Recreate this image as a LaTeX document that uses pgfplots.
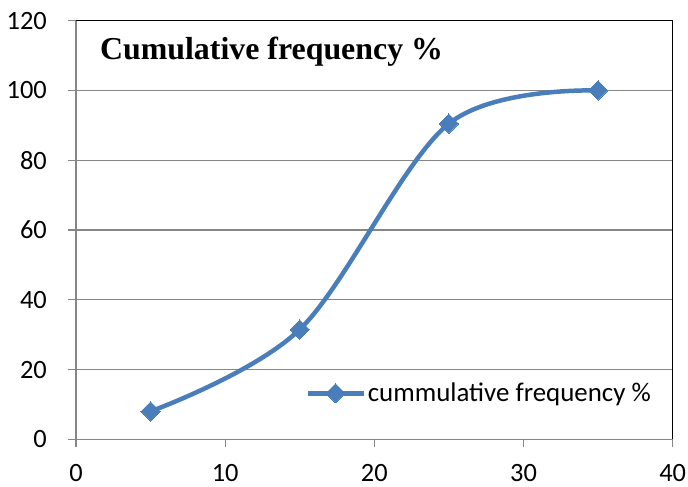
\documentclass[border=0pt]{standalone}
\usepackage{pgfplots}
\pgfplotsset{compat=1.18}
\usepackage{fontspec}
\setmainfont{Carlito}
\newfontfamily\titlefont{Liberation Serif}
\definecolor{exblue}{HTML}{4A7EBB}
\definecolor{exgray}{HTML}{868686}
\begin{document}
\begin{tikzpicture}
\path[use as bounding box] (-76bp,-47.7bp) rectangle (612bp,439.3bp);
\begin{axis}[
  at={(0,0)}, anchor=south west,
  scale only axis,
  width=596.7bp, height=418.6bp,
  xmin=0, xmax=40, ymin=0, ymax=120,
  xtick={0,10,...,40}, ytick={0,20,...,120},
  tick align=outside,
  major tick length=8bp,
  tick style={exgray, line width=1.2bp},
  axis line style={exgray, line width=1.2bp},
  ymajorgrids,
  major grid style={exgray, line width=1.2bp},
  xtick pos=bottom, ytick pos=left,
  ticklabel style={font=\fontsize{26.5}{29}\selectfont},
  /pgf/number format/assume math mode=true,
  yticklabel style={inner sep=0pt, xshift=-21bp},
  xticklabel style={inner sep=0pt, yshift=-17bp},
  legend style={at={(rel axis cs:0.384,0.110)}, anchor=west, draw=none, fill=none,
    font=\fontsize{27}{30}\selectfont, inner sep=0pt,
    nodes={inner sep=2bp}},
  legend image code/.code={
    \draw[mark repeat=2,mark phase=2,#1] plot coordinates {(0bp,0bp) (28bp,0bp) (56bp,0bp)};
  },
  clip=false,
]
\addplot[exblue, line width=4.5bp, smooth, tension=0.55,
  mark=square*, mark size=6.8bp, mark options={rotate=45, fill=exblue, draw=exblue, line width=0pt}]
  coordinates {(5,8) (15,31.5) (25,90.5) (35,100)};
\addlegendentry{cummulative frequency \%}
\draw[black, line width=1.2bp] (rel axis cs:0,1) -- (rel axis cs:1,1) -- (rel axis cs:1,0);
\node[anchor=base west, inner sep=0pt, font=\titlefont\bfseries\fontsize{32}{36}\selectfont]
  at (rel axis cs:0.0400,0.908) {Cumulative frequency \%};
\end{axis}
\end{tikzpicture}
\end{document}
